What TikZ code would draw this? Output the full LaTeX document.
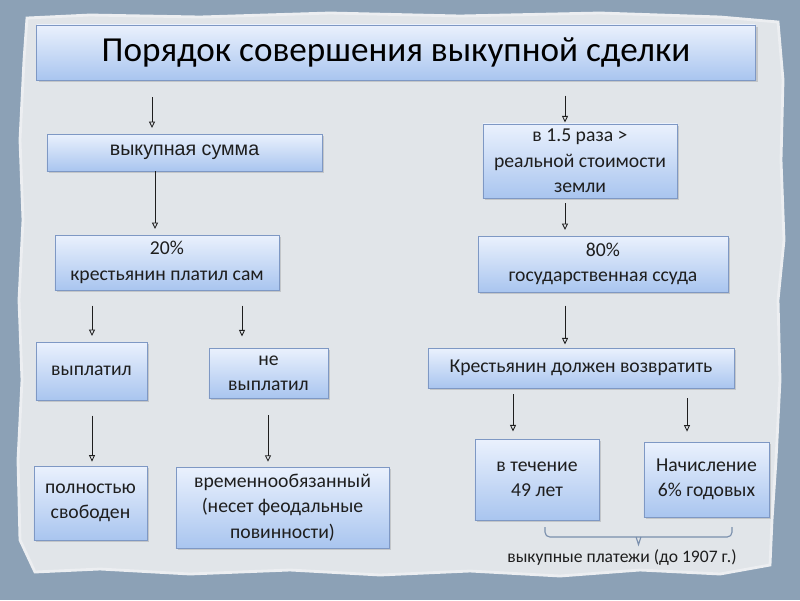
\documentclass[tikz,border=0pt]{standalone}
\usepackage{fontspec}
\setmainfont{Carlito}
\newfontfamily\arialfont{Liberation Sans}
\usetikzlibrary{arrows.meta,shadows}
\definecolor{outerbg}{HTML}{8CA1B6}
\definecolor{paper}{HTML}{E1E5E9}
\definecolor{paperedge}{HTML}{ECEEF1}
\definecolor{boxline}{HTML}{7E98C4}
\definecolor{boxtop}{HTML}{EAF1FD}
\definecolor{boxbot}{HTML}{A9C5EF}
\definecolor{bracecol}{HTML}{7A8FAD}
\definecolor{ink}{HTML}{1E1E1E}

\begin{document}
\begin{tikzpicture}[x=0.025cm,y=-0.025cm]
\tikzset{
  stepbox/.style={rectangle,draw=boxline,line width=0.6pt,top color=boxtop,bottom color=boxbot,
    drop shadow={shadow xshift=0.6mm,shadow yshift=-0.6mm,opacity=0.3},
    align=center,inner sep=1pt,text=ink,font=\fontsize{14}{18}\selectfont},
  arr/.style={-{Triangle[open,length=1.6mm,width=1.5mm]},draw=ink,line width=0.6pt,shorten >=1.4mm},
  bracket/.style={draw=bracecol,line width=0.8pt,rounded corners=1.2mm}
}
% background
\useasboundingbox (0,0) rectangle (800,600);
\fill[outerbg] (0,0) rectangle (800,600);
\filldraw[fill=paper,draw=paperedge,line width=2pt]
  (27,18) -- (90,15) -- (200,17) -- (330,13) -- (460,16) -- (600,13) -- (720,17) -- (778,22)
  -- (783,80) -- (781,160) -- (784,240) -- (778,300) -- (780,380) -- (776,460) -- (772,520)
  -- (770,565) -- (720,574) -- (640,570) -- (560,576) -- (470,571) -- (380,575) -- (290,570)
  -- (190,574) -- (100,569) -- (35,572) -- (20,540) -- (18,460) -- (22,380) -- (19,300)
  -- (23,220) -- (20,140) -- (24,60) -- cycle;

% boxes
\node[stepbox,minimum width=179.5mm,minimum height=13.75mm,font=\fontsize{25}{30}\selectfont,text=black]
  (n_title) at (396,52.5) {Порядок совершения выкупной сделки};
\node[stepbox,minimum width=68.75mm,minimum height=9.25mm,font=\arialfont\fontsize{14}{18}\selectfont]
  (n_sum) at (184.5,152.5) {выкупная сумма};
\node[stepbox,minimum width=48.5mm,minimum height=18.5mm] (n_ratio) at (580,161)
  {в 1.5 раза >\\реальной стоимости\\земли};
\node[stepbox,minimum width=56mm,minimum height=13.75mm] (n_p20) at (167,262.5)
  {20\%\\крестьянин платил сам};
\node[stepbox,minimum width=62.5mm,minimum height=14mm] (n_p80) at (603,264)
  {80\%\\государственная ссуда};
\node[stepbox,minimum width=27.75mm,minimum height=14.5mm] (n_paid) at (91.5,371) {выплатил};
\node[stepbox,minimum width=29.75mm,minimum height=12.5mm] (n_unpaid) at (268.5,373) {не\\выплатил};
\node[stepbox,minimum width=76.5mm,minimum height=10mm] (n_must) at (581,368) {Крестьянин должен возвратить};
\node[stepbox,minimum width=28.25mm,minimum height=18.5mm] (n_free) at (90.5,503) {полностью\\свободен};
\node[stepbox,minimum width=53.25mm,minimum height=20.25mm] (n_temp) at (282.5,507.5)
  {временнообязанный\\(несет феодальные\\повинности)};
\node[stepbox,minimum width=31mm,minimum height=20.25mm] (n_years) at (537,479.5) {в течение\\49 лет};
\node[stepbox,minimum width=31.25mm,minimum height=18.75mm] (n_rate) at (706.5,479.5) {Начисление\\6\% годовых};

% arrows
\draw[arr,shorten <=4.2mm] (n_title.south -| 152,0) -- (n_sum.north -| 152,0);
\draw[arr,shorten <=3.8mm,shorten >=0.3mm] (n_title.south -| 565,0) -- (n_ratio.north -| 565,0);
\draw[arr] (n_sum.south -| 155,0) -- (n_p20.north -| 155,0);
\draw[arr,shorten <=1.2mm] (n_ratio.south -| 565,0) -- (n_p80.north -| 565,0);
\draw[arr,shorten <=3.8mm] (n_p20.south -| 92,0) -- (n_paid.north -| 92,0);
\draw[arr,shorten <=3.8mm,shorten >=2.8mm] (n_p20.south -| 242,0) -- (n_unpaid.north -| 242,0);
\draw[arr,shorten <=3.3mm,shorten >=0.8mm] (n_p80.south -| 565,0) -- (n_must.north -| 565,0);
\draw[arr,shorten <=1.5mm,shorten >=1.8mm] (n_must.south -| 513,0) -- (n_years.north -| 513,0);
\draw[arr,shorten <=2.5mm,shorten >=2.5mm] (n_must.south -| 687,0) -- (n_rate.north -| 687,0);
\draw[arr,shorten <=3.8mm,shorten >=1mm] (n_paid.south -| 92,0) -- (n_free.north -| 92,0);
\draw[arr,shorten <=4.2mm,shorten >=1.2mm] (n_unpaid.south -| 268,0) -- (n_temp.north -| 268,0);

% bracket under the two loan terms
\coordinate (c_braceL) at (545,527);
\coordinate (c_braceR) at (732,527);
\coordinate (c_braceM) at (638.5,537);
\draw[bracket] (c_braceL) -- (c_braceL |- c_braceM) -- (c_braceR |- c_braceM) -- (c_braceR);
\draw[bracecol,line width=0.8pt] ([xshift=-0.6mm]c_braceM) -- ([yshift=-1.9mm]c_braceM) -- ([xshift=0.6mm]c_braceM);
\node[text=ink,font=\fontsize{12.5}{15}\selectfont] (n_payments) at (622,557) {выкупные платежи (до 1907 г.)};
\end{tikzpicture}
\end{document}
